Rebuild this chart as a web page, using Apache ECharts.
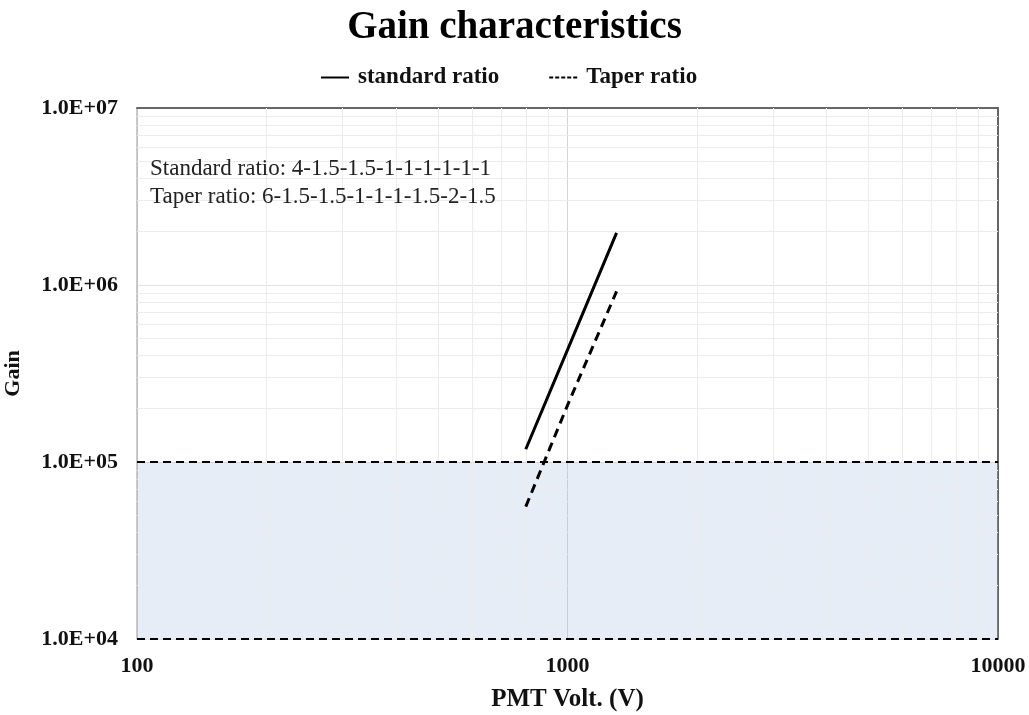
<!DOCTYPE html>
<html>
<head>
<meta charset="utf-8">
<script src="https://cdn.jsdelivr.net/npm/echarts@6.0.0/dist/echarts.min.js"></script>
<style>
  html, body { margin: 0; padding: 0; background: #fff; }
  #main { width: 1029px; height: 715px; }
</style>
</head>
<body>
<div id="main"></div>
<script>
// 数据
const standardVolt = [800, 1000, 1300]
const standardGain = [1.18e5, 4.3e5, 1.97e6]
const taperVolt = [800, 1000, 1300]
const taperGain = [5.6e4, 2.09e5, 9.2e5]
const limitLines = [1e5, 1e4]
const xMinor = [200, 300, 400, 500, 600, 700, 800, 900, 2000, 3000, 4000, 5000, 6000, 7000, 8000, 9000]
const yMinor = [2e4, 3e4, 4e4, 5e4, 6e4, 7e4, 8e4, 9e4, 2e5, 3e5, 4e5, 5e5, 6e5, 7e5, 8e5, 9e5, 2e6, 3e6, 4e6, 5e6, 6e6, 7e6, 8e6, 9e6]

const font = '"Liberation Serif", "Times New Roman", serif'

function pair(xs, ys) {
  return xs.map((x, i) => [x, ys[i]])
}

// 1.0E+05 形式
function expLabel(v) {
  const e = Math.round(Math.log10(v))
  const m = v / Math.pow(10, e)
  return m.toFixed(1) + 'E+' + (e < 10 ? '0' + e : e)
}

const mycharts = echarts.init(document.getElementById('main'))
const axisX = {
  type: 'log', logBase: 10, min: 100, max: 10000
}
const axisY = {
  type: 'log', logBase: 10, min: 1e4, max: 1e7
}
const option = {
  backgroundColor: '#fff',
  animation: false,
  title: {
    text: 'Gain characteristics',
    left: 'center',
    top: 3,
    textStyle: { fontFamily: font, fontSize: 39, fontWeight: 'bold', color: '#000' }
  },
  legend: {
    data: [
      { name: 'standard ratio', icon: 'path://M0,0H28V2H0Z' },
      { name: 'Taper ratio', icon: 'path://M0,0h4v2h-4z M6,0h4v2h-4z M12,0h4v2h-4z M18,0h4v2h-4z M24,0h4v2h-4z' }
    ],
    top: 61,
    left: 316,
    itemGap: 50,
    itemWidth: 28,
    itemHeight: 2,
    textStyle: { fontFamily: font, fontSize: 23, fontWeight: 'bold', color: '#111', padding: [0, 0, 0, 4] }
  },
  grid: { left: 137, right: 31, top: 108, bottom: 76, outerBoundsMode: 'none' },
  xAxis: [
    Object.assign({}, axisX, {
      name: 'PMT Volt. (V)',
      nameLocation: 'middle',
      nameGap: 48,
      nameTextStyle: { fontFamily: font, fontSize: 25, fontWeight: 'bold', color: '#111' },
      axisLine: { show: false },
      axisTick: { show: false },
      axisLabel: { margin: 16, fontFamily: font, fontSize: 22, fontWeight: 'bold', color: '#111', formatter: v => String(v) },
      splitLine: { show: true, lineStyle: { color: '#d4d4d4', width: 1 } }
    }),
    Object.assign({}, axisX, {
      position: 'top',
      axisLine: { show: true, onZero: false, lineStyle: { color: '#666', width: 2 } },
      axisTick: { show: false },
      axisLabel: { show: false },
      splitLine: { show: false }
    })
  ],
  yAxis: [
    Object.assign({}, axisY, {
      name: 'Gain',
      nameLocation: 'middle',
      nameGap: 113,
      nameRotate: 90,
      nameTextStyle: { fontFamily: font, fontSize: 22, fontWeight: 'bold', color: '#111' },
      axisLine: { show: true, onZero: false, lineStyle: { color: '#bbb', width: 1.5 } },
      axisTick: { show: false },
      axisLabel: { margin: 19, fontFamily: font, fontSize: 22, fontWeight: 'bold', color: '#111', formatter: expLabel },
      splitLine: { show: true, lineStyle: { color: '#e2e2e2', width: 1 } }
    }),
    Object.assign({}, axisY, {
      position: 'right',
      axisLine: { show: true, onZero: false, lineStyle: { color: '#666', width: 2 } },
      axisTick: { show: false },
      axisLabel: { show: false },
      splitLine: { show: false }
    })
  ],
  graphic: [
    {
      type: 'text', left: 150, top: 157, z: 100,
      style: { text: 'Standard ratio: 4-1.5-1.5-1-1-1-1-1-1', font: '23px ' + font, fill: '#222' }
    },
    {
      type: 'text', left: 150, top: 185, z: 100,
      style: { text: 'Taper ratio: 6-1.5-1.5-1-1-1-1.5-2-1.5', font: '23px ' + font, fill: '#222' }
    }
  ],
  series: [
    // 网格细线
    {
      type: 'line',
      data: [],
      silent: true,
      z: 1,
      markLine: {
        silent: true,
        symbol: 'none',
        label: { show: false },
        lineStyle: { color: '#ececec', width: 1, type: 'solid' },
        data: xMinor.map(v => ({ xAxis: v })).concat(yMinor.map(v => ({ yAxis: v })))
      }
    },
    // 阴影区域 + 虚线
    {
      type: 'line',
      data: [],
      silent: true,
      z: 2,
      markArea: {
        silent: true,
        itemStyle: { color: 'rgba(170,192,228,0.28)' },
        data: [[{ yAxis: limitLines[1] }, { yAxis: limitLines[0] }]]
      },
      markLine: {
        silent: true,
        symbol: 'none',
        label: { show: false },
        lineStyle: { color: '#000', width: 2, type: [8, 5] },
        data: limitLines.map(v => ({ yAxis: v }))
      }
    },
    {
      name: 'standard ratio',
      type: 'line',
      z: 5,
      showSymbol: false,
      symbol: 'none',
      lineStyle: { color: '#000', width: 3, type: 'solid' },
      itemStyle: { color: '#000' },
      data: pair(standardVolt, standardGain)
    },
    {
      name: 'Taper ratio',
      type: 'line',
      z: 5,
      showSymbol: false,
      symbol: 'none',
      lineStyle: { color: '#000', width: 3, type: [9, 6] },
      itemStyle: { color: '#000' },
      data: pair(taperVolt, taperGain)
    }
  ]
}
mycharts.setOption(option)
</script>
</body>
</html>
